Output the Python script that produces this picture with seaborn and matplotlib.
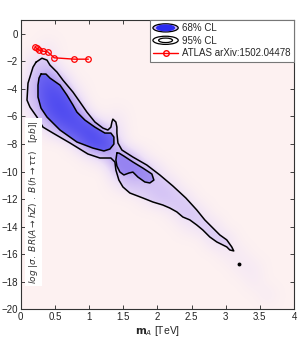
import numpy as np
import matplotlib
matplotlib.use("Agg")
import matplotlib.pyplot as plt
import seaborn as sns
from matplotlib.colors import LinearSegmentedColormap
from matplotlib.patches import Ellipse, Patch
from matplotlib.lines import Line2D
from matplotlib.legend_handler import HandlerBase

# ---- data ----
# density (0-9), rows y = 1 .. -20 (step 1), columns m_A = 0 .. 4 TeV (step 0.2)
density_rows = [
    "0 0 0 0 0 0 0 0 0 0 0 0 0 0 0 0 0 0 0 0 0",  # 1
    "0 0 0 0 0 0 0 0 0 0 0 0 0 0 0 0 0 0 0 0 0",  # 0
    "0 0 1 0 0 0 0 0 0 0 0 0 0 0 0 0 0 0 0 0 0",  # -1
    "0 2 2 0 0 0 0 0 0 0 0 0 0 0 0 0 0 0 0 0 0",  # -2
    "0 3 6 2 0 0 0 0 0 0 0 0 0 0 0 0 0 0 0 0 0",  # -3
    "1 4 8 6 1 0 0 0 0 0 0 0 0 0 0 0 0 0 0 0 0",  # -4
    "1 3 8 9 4 0 0 0 0 0 0 0 0 0 0 0 0 0 0 0 0",  # -5
    "0 2 6 9 8 2 0 1 0 0 0 0 0 0 0 0 0 0 0 0 0",  # -6
    "0 0 2 5 8 9 4 2 0 0 0 0 0 0 0 0 0 0 0 0 0",  # -7
    "0 0 0 0 2 8 9 3 0 0 0 0 0 0 0 0 0 0 0 0 0",  # -8
    "0 0 0 0 0 1 3 6 5 1 0 0 0 0 0 0 0 0 0 0 0",  # -9
    "0 0 0 0 0 0 0 4 6 5 2 0 0 0 0 0 0 0 0 0 0",  # -10
    "0 0 0 0 0 0 0 1 3 3 3 2 0 0 0 0 0 0 0 0 0",  # -11
    "0 0 0 0 0 0 0 0 0 1 3 3 2 0 0 0 0 0 0 0 0",  # -12
    "0 0 0 0 0 0 0 0 0 0 0 1 3 2 0 0 0 0 0 0 0",  # -13
    "0 0 0 0 0 0 0 0 0 0 0 0 1 2 2 0 0 0 0 0 0",  # -14
    "0 0 0 0 0 0 0 0 0 0 0 0 0 0 2 2 0 0 0 0 0",  # -15
    "0 0 0 0 0 0 0 0 0 0 0 0 0 0 0 1 1 0 0 0 0",  # -16
    "0 0 0 0 0 0 0 0 0 0 0 0 0 0 0 0 1 1 0 0 0",  # -17
    "0 0 0 0 0 0 0 0 0 0 0 0 0 0 0 0 0 1 0 0 0",  # -18
    "0 0 0 0 0 0 0 0 0 0 0 0 0 0 0 0 0 0 1 0 0",  # -19
    "0 0 0 0 0 0 0 0 0 0 0 0 0 0 0 0 0 0 0 0 0",  # -20
]

# 95% CL outline
cl95_x = [0.224, 0.311, 0.385, 0.428, 0.531, 0.618, 0.765, 0.867, 0.969, 1.086,
          1.203, 1.276, 1.320, 1.335, 1.349, 1.393, 1.408, 1.408, 1.423, 1.481,
          1.642, 1.846, 2.036, 2.227, 2.417, 2.577, 2.694, 2.811, 2.914, 3.016,
          3.089, 3.118, 3.060, 3.016, 2.870, 2.768, 2.665, 2.577, 2.475, 2.373,
          2.285, 2.183, 2.080, 1.934, 1.788, 1.598, 1.496, 1.437, 1.393, 1.379,
          1.320, 1.159, 0.984, 0.721, 0.472, 0.326, 0.238, 0.136, 0.092, 0.107,
          0.180, 0.224]
cl95_y = [-2.07, -1.78, -1.92, -2.28, -2.79, -3.37, -4.24, -4.96, -5.69, -6.41,
          -6.85, -6.99, -6.78, -6.41, -6.20, -6.41, -6.78, -7.21, -7.93, -8.44,
          -8.95, -9.53, -10.25, -11.05, -11.92, -12.79, -13.51, -14.09, -14.60, -14.96,
          -15.47, -15.76, -15.69, -15.47, -15.11, -14.75, -14.24, -13.88, -13.51, -13.30,
          -12.93, -12.65, -12.43, -12.21, -11.92, -11.56, -11.12, -10.62, -9.89, -9.31,
          -9.02, -9.02, -8.73, -7.93, -7.21, -6.78, -6.05, -5.33, -4.82, -3.59,
          -2.43, -2.07]
cl95_dot_x = [3.2]
cl95_dot_y = [-16.7]

# 68% CL outlines (main blob and second lobe)
cl68a_x = [0.297, 0.370, 0.428, 0.575, 0.677, 0.765, 0.823, 0.940, 1.086, 1.232,
           1.320, 1.364, 1.364, 1.306, 1.218, 1.057, 0.823, 0.575, 0.385, 0.297,
           0.253, 0.253, 0.268, 0.297]
cl68a_y = [-2.93, -2.93, -3.22, -3.73, -4.46, -5.18, -5.69, -6.27, -6.78, -7.21,
           -7.21, -7.50, -8.01, -8.37, -8.51, -8.30, -7.86, -6.99, -6.05, -5.40,
           -4.60, -3.73, -3.22, -2.93]
cl68b_x = [1.408, 1.393, 1.408, 1.452, 1.510, 1.583, 1.642, 1.715, 1.817, 1.890,
           1.949, 1.920, 1.788, 1.642, 1.510, 1.437, 1.408]
cl68b_y = [-8.66, -9.17, -9.60, -10.04, -10.25, -10.11, -10.04, -10.40, -10.76, -10.83,
           -10.62, -10.18, -9.75, -9.31, -8.88, -8.66, -8.66]

# ATLAS limit
atlas_m = [0.21, 0.235, 0.27, 0.33, 0.395, 0.49, 0.785, 0.99]
atlas_y = [-0.96, -1.07, -1.20, -1.27, -1.32, -1.75, -1.85, -1.85]

xticks = [0, 0.5, 1, 1.5, 2, 2.5, 3, 3.5, 4]
xticklabels = ['0', '0.5', '1', '1.5', '2', '2.5', '3', '3.5', '4']
yticks = [-20, -18, -16, -14, -12, -10, -8, -6, -4, -2, 0]

bg = '#fdf1f1'
clrs = ['#fdf1f1', '#efe2f7', '#d4c2f5', '#a08af3', '#5e52f0', '#2222ee']


class HandlerRings(HandlerBase):
    def __init__(self, rings):
        super().__init__()
        self.rings = rings

    def create_artists(self, legend, orig_handle, xdescent, ydescent,
                       width, height, fontsize, trans):
        cx = 0.5 * width - xdescent
        cy = 0.5 * height - ydescent
        arts = []
        for scale, face, edge in self.rings:
            e = Ellipse((cx, cy), width * scale, height * 1.2 * scale,
                        facecolor=face, edgecolor=edge, lw=0.9, transform=trans)
            arts.append(e)
        return arts


sns.set_style("ticks")
plt.rcParams['font.family'] = ['Liberation Sans', 'DejaVu Sans']

fig = plt.figure(figsize=(3.0, 3.37), dpi=100)
ax = fig.add_axes([0.069, 0.082, 0.911, 0.859])
ax.set_facecolor(bg)

dens = np.array([[float(v) for v in r.split()] for r in density_rows]) / 9.0
cmap = LinearSegmentedColormap.from_list('cl', clrs)
ax.imshow(dens, extent=(-0.1, 4.1, -20.5, 1.5), aspect='auto', cmap=cmap,
          vmin=0, vmax=1, interpolation='bicubic', origin='upper', zorder=0)

# tint the credible regions
ax.fill(cl95_x, cl95_y, color='#c8b6f4', alpha=0.45, lw=0, zorder=1)
ax.fill(cl68a_x, cl68a_y, color='#3434f0', alpha=0.6, lw=0, zorder=1)
ax.fill(cl68b_x, cl68b_y, color='#7a68f0', alpha=0.55, lw=0, zorder=1)

ax.plot(cl95_x, cl95_y, color='black', lw=1.1, zorder=2)
ax.plot(cl68a_x, cl68a_y, color='black', lw=1.1, zorder=2)
ax.plot(cl68b_x, cl68b_y, color='black', lw=1.1, zorder=2)
ax.plot(cl95_dot_x, cl95_dot_y, 'o', color='black', ms=1.8, zorder=2)

sns.lineplot(x=atlas_m, y=atlas_y, ax=ax, color='red', marker='o', lw=1,
             markersize=4, markerfacecolor='none', markeredgecolor='red',
             markeredgewidth=0.9, sort=False, legend=False, zorder=3)

ax.set_xlim(0, 4)
ax.set_ylim(-20, 1)
ax.set_xticks(xticks)
ax.set_xticklabels(xticklabels)
ax.set_yticks(yticks)
ax.tick_params(direction='in', top=True, right=True, length=3, width=0.6,
               labelsize=7, pad=2, colors='#222222')
for s in ax.spines.values():
    s.set_linewidth(0.8)
    s.set_color('#333333')

ax.set_xlabel(r'$\mathbf{m}_A$ [TeV]', fontsize=7.5, labelpad=1)
ax.text(0.19, -12.2,
        r'$log\ |\sigma.\ BR(A\rightarrow hZ)\ .\ B(h\rightarrow\tau\tau)\quad[pb]|$',
        rotation=90, fontsize=6.5, ha='center', va='center', color='#333333',
        bbox=dict(fc='white', ec='none', pad=1.5), zorder=4)

h68 = Patch(label='68% CL')
h95 = Patch(label='95% CL')
hat = Line2D([], [], color='red', marker='o', mfc='none', mec='red', ms=4, lw=1,
             label='ATLAS arXiv:1502.04478')
leg = ax.legend(handles=[h68, h95, hat], loc='upper right', borderaxespad=0,
                fontsize=7, fancybox=False, edgecolor='#777777', framealpha=1,
                handlelength=2.6, handletextpad=0.4, labelspacing=0.25, borderpad=0.35,
                handler_map={h68: HandlerRings([(1.0, '#c9b6f3', 'black'), (0.7, '#2a2af0', '#2a2af0')]),
                             h95: HandlerRings([(1.0, 'white', 'black'), (0.55, 'white', 'black')])})
leg.get_frame().set_linewidth(0.8)
leg.set_zorder(5)

fig.savefig('out.png', dpi=100)
